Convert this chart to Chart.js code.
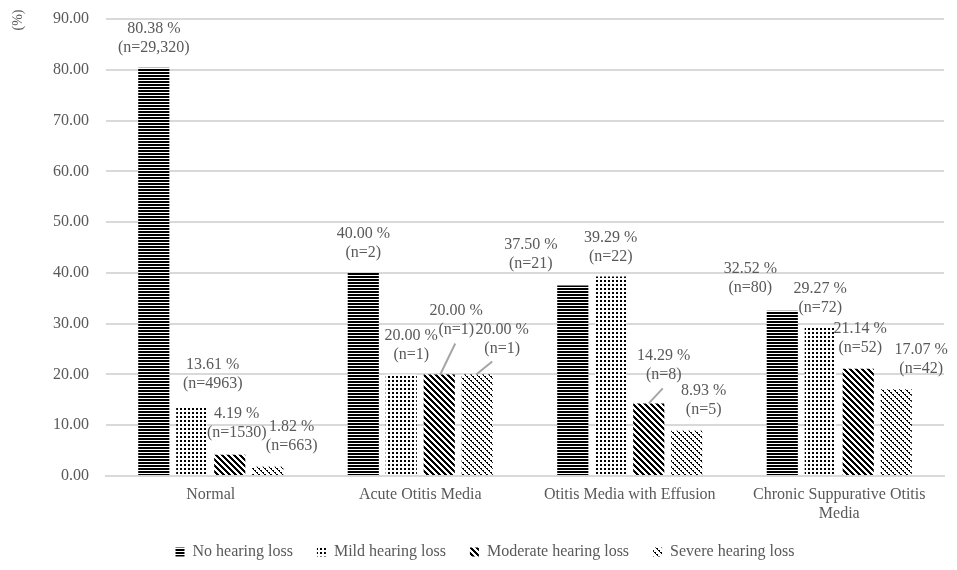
<!DOCTYPE html>
<html><head><meta charset="utf-8">
<script src="https://cdn.jsdelivr.net/npm/chart.js@4.4.0/dist/chart.umd.min.js"></script>
<style>html,body{margin:0;padding:0;background:#fff}#wrap{width:957px;height:570px;position:relative}</style>
</head><body><div id="wrap"><canvas id="c"></canvas></div>
<script>
// ---- data ----
const categories = ['Normal', 'Acute Otitis Media', 'Otitis Media with Effusion', ['Chronic Suppurative Otitis', 'Media']];
const seriesNames = ['No hearing loss', 'Mild hearing loss', 'Moderate hearing loss', 'Severe hearing loss'];
const noLoss = [80.38, 40.00, 37.50, 32.52];
const mildLoss = [13.61, 20.00, 39.29, 29.27];
const moderateLoss = [4.19, 20.00, 14.29, 21.14];
const severeLoss = [1.82, 20.00, 8.93, 17.07];
const noLossN = ['29,320', '2', '21', '80'];
const mildLossN = ['4963', '1', '22', '72'];
const moderateLossN = ['1530', '1', '8', '52'];
const severeLossN = ['663', '1', '5', '42'];
const yMin = 0, yMax = 90, yStep = 10;
const yTitle = '(%)';

// ---- label placement (layout only) ----
const labelShift = [
  [[0,-20],[0,-20],[-42,-22],[-32,-23]],
  [[21,-23],[10,-20],[0,-20],[0,-20]],
  [[7,-22],[17,-45],[15,-29],[2,-21]],
  [[24,-21],[25,-26],[17,-21],[25,-21]]
];
const leaders = [
  {ds:2, i:1, from:[16,-31], to:[1,0]},
  {ds:3, i:1, from:[15,-13], to:[-1,0]},
  {ds:2, i:2, from:[14,-15], to:[0,0]}
];

const FONT = '"Liberation Serif", "Times New Roman", serif';
const TXT = '#595959';

function makePattern(w, h, fn) {
  const c = document.createElement('canvas');
  c.width = w; c.height = h;
  const x = c.getContext('2d');
  x.fillStyle = '#fff'; x.fillRect(0,0,w,h);
  x.fillStyle = '#000';
  for (let yy = 0; yy < h; yy++) for (let xx = 0; xx < w; xx++) if (fn(xx, yy)) x.fillRect(xx, yy, 1, 1);
  return document.getElementById('c').getContext('2d').createPattern(c, 'repeat');
}
const patHoriz = makePattern(3, 3, (x, y) => y < 2);
const patDots = makePattern(4, 4, (x, y) => (x < 2 && y < 2));
const patThick = makePattern(6, 6, (x, y) => ((x - y + 60) % 6) < 3);
const patThin = makePattern(6, 6, (x, y) => { const k = (x - y + 60) % 6; return k === 0 || (k === 1 && y % 2 === 0); });

const values = [noLoss, mildLoss, moderateLoss, severeLoss];
const counts = [noLossN, mildLossN, moderateLossN, severeLossN];
const patterns = [patHoriz, patDots, patThick, patThin];

const labelPlugin = {
  id: 'barLabels',
  afterDatasetsDraw(chart) {
    const ctx = chart.ctx;
    ctx.save();
    ctx.strokeStyle = '#a6a6a6';
    ctx.lineWidth = 2;
    leaders.forEach(l => {
      const el = chart.getDatasetMeta(l.ds).data[l.i];
      ctx.beginPath();
      ctx.moveTo(el.x + l.from[0], el.y + l.from[1]);
      ctx.lineTo(el.x + l.to[0], el.y + l.to[1]);
      ctx.stroke();
    });
    ctx.font = '16px ' + FONT;
    ctx.fillStyle = TXT;
    ctx.textAlign = 'center';
    ctx.textBaseline = 'middle';
    chart.data.datasets.forEach((ds, d) => {
      chart.getDatasetMeta(d).data.forEach((el, i) => {
        const [dx, dy] = labelShift[d][i];
        const x = el.x + dx, y2 = el.y + dy;
        ctx.fillText(values[d][i].toFixed(2) + ' %', x, y2 - 19);
        ctx.fillText('(n=' + counts[d][i] + ')', x, y2);
      });
    });
    // y axis unit title, rotated, above the axis top
    ctx.font = '14px ' + FONT;
    ctx.translate(18, 20);
    ctx.rotate(-Math.PI / 2);
    ctx.fillText(yTitle, 0, 0);
    ctx.restore();
  }
};

new Chart(document.getElementById('c'), {
  type: 'bar',
  data: {
    labels: categories,
    datasets: values.map((v, d) => ({
      label: seriesNames[d],
      data: v,
      backgroundColor: patterns[d],
      borderWidth: 0,
      categoryPercentage: 0.725,
      barPercentage: 0.82
    }))
  },
  options: {
    responsive: true,
    maintainAspectRatio: false,
    animation: false,
    devicePixelRatio: 1,
    layout: { padding: { top: 2, right: 13, left: 26, bottom: 0 } },
    plugins: {
      legend: {
        position: 'bottom',
        labels: { boxWidth: 9, boxHeight: 9, padding: 24, color: TXT, font: { family: FONT, size: 16 } }
      },
      tooltip: { enabled: false }
    },
    scales: {
      x: {
        grid: { display: false },
        border: { color: '#d9d9d9', width: 2 },
        ticks: { color: TXT, font: { family: FONT, size: 16 }, maxRotation: 0, autoSkip: false, padding: 1 },
        afterFit: s => { s.height = 44; }
      },
      y: {
        min: yMin, max: yMax,
        grid: { color: '#d9d9d9', lineWidth: 2, drawTicks: false },
        border: { display: false },
        ticks: { stepSize: yStep, color: TXT, font: { family: FONT, size: 16 }, padding: 17, callback: v => Number(v).toFixed(2) },
        afterFit: s => { s.width = 80; s.paddingTop = 19; s.paddingBottom = 0; }
      }
    }
  },
  plugins: [labelPlugin]
});
</script></body></html>
